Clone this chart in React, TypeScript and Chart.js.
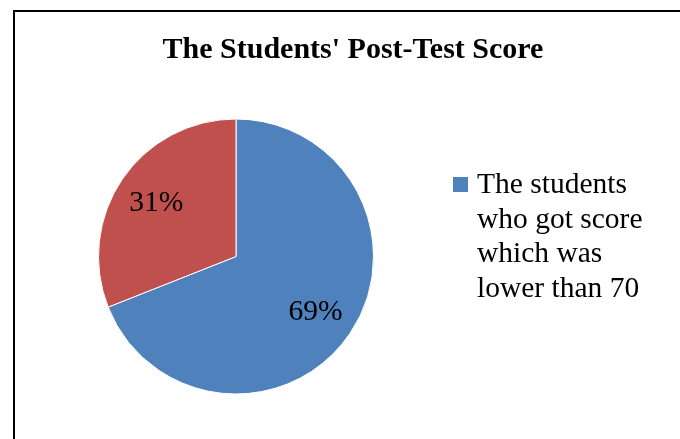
import React, { useEffect, useRef } from "react";
import { Chart, registerables } from "chart.js";

Chart.register(...registerables);

const titleText = "The Students' Post-Test Score";
const categories = ["The students who got score which was lower than 70", ""];
const values = [69, 31];
const percentLabels = ["69%", "31%"];
const colors = ["#4F81BD", "#C0504D"];

const FONT = '"Liberation Serif", "Times New Roman", serif';

function wrap(ctx: CanvasRenderingContext2D, text: string, maxW: number): string[] {
  const words = text.split(" ");
  const lines: string[] = [];
  let cur = "";
  for (const w of words) {
    const test = cur ? cur + " " + w : w;
    if (ctx.measureText(test).width > maxW && cur) {
      lines.push(cur);
      cur = w;
    } else cur = test;
  }
  if (cur) lines.push(cur);
  return lines;
}

const decorPlugin = {
  id: "decor",
  afterDraw(chart: any) {
    const ctx = chart.ctx as CanvasRenderingContext2D;
    ctx.save();
    // title
    ctx.fillStyle = "#000";
    ctx.font = `bold 30px ${FONT}`;
    ctx.textAlign = "center";
    ctx.textBaseline = "alphabetic";
    ctx.fillText(titleText, 353, 58);

    // percent labels
    const meta = chart.getDatasetMeta(0);
    ctx.font = `29.5px ${FONT}`;
    meta.data.forEach((arc: any, i: number) => {
      const p = arc.getProps(["x", "y", "startAngle", "endAngle", "outerRadius"], true);
      const mid = (p.startAngle + p.endAngle) / 2;
      const r = p.outerRadius * 0.7;
      const x = p.x + Math.cos(mid) * r;
      const y = p.y + Math.sin(mid) * r;
      ctx.fillText(percentLabels[i], x, y + 9);
    });

    // legend
    ctx.textAlign = "left";
    ctx.font = `29.5px ${FONT}`;
    const labels = chart.data.labels as string[];
    let y = 193;
    labels.forEach((lab: string, i: number) => {
      if (!lab) return;
      ctx.fillStyle = colors[i];
      ctx.fillRect(453, y - 16, 15, 15);
      ctx.fillStyle = "#000";
      const lines = wrap(ctx, lab, 175);
      lines.forEach((ln, k) => {
        ctx.fillText(ln, 477, y + k * 34.7);
      });
      y += lines.length * 34.7;
    });
    ctx.restore();
  },
};

export default function App() {
  const ref = useRef<HTMLCanvasElement>(null);
  useEffect(() => {
    if (!ref.current) return;
    const chart = new Chart(ref.current, {
      type: "pie",
      data: {
        labels: categories,
        datasets: [
          {
            data: values,
            backgroundColor: colors,
            borderColor: "#ffffff",
            borderWidth: 1,
          },
        ],
      },
      options: {
        animation: false,
        responsive: false,
        maintainAspectRatio: false,
        layout: { padding: { left: 98, right: 306, top: 118, bottom: 44 } },
        plugins: {
          legend: { display: false },
          title: { display: false },
          tooltip: { enabled: false },
        },
      },
      plugins: [decorPlugin],
    });
    return () => chart.destroy();
  }, []);

  return (
    <div
      style={{
        position: "fixed",
        left: 0,
        top: 0,
        width: 680,
        height: 439,
        overflow: "hidden",
        background: "#fff",
      }}
    >
      <div
        style={{
          position: "absolute",
          left: 13,
          top: 10,
          width: 700,
          height: 460,
          border: "2px solid #000",
          boxSizing: "border-box",
        }}
      />
      <canvas
        ref={ref}
        width={680}
        height={439}
        style={{ position: "absolute", left: 0, top: 0, width: 680, height: 439 }}
      />
    </div>
  );
}
